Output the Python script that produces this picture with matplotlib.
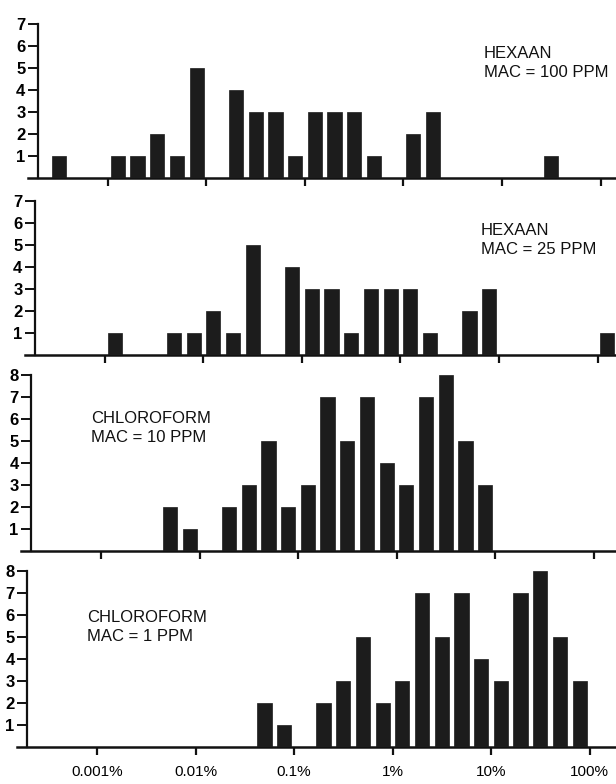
import matplotlib
matplotlib.use('Agg')
import matplotlib.pyplot as plt
from matplotlib.ticker import NullLocator, FixedLocator

plt.rcParams['font.family'] = ['Liberation Sans', 'DejaVu Sans']

# ---- data: bin centres as log10(percent), and counts ----
hex100_log = [-3.5, -2.9, -2.7, -2.5, -2.3, -2.1, -1.7, -1.5, -1.3, -1.1,
              -0.9, -0.7, -0.5, -0.3, 0.1, 0.3, 1.5]
hex100_n = [1, 1, 1, 2, 1, 5, 4, 3, 3, 1, 3, 3, 3, 1, 2, 3, 1]

hex25_log = [-2.9, -2.3, -2.1, -1.9, -1.7, -1.5, -1.1, -0.9, -0.7, -0.5,
             -0.3, -0.1, 0.1, 0.3, 0.7, 0.9, 2.1]
hex25_n = [1, 1, 1, 2, 1, 5, 4, 3, 3, 1, 3, 3, 3, 1, 2, 3, 1]

chl10_log = [-2.3, -2.1, -1.7, -1.5, -1.3, -1.1, -0.9, -0.7, -0.5, -0.3,
             -0.1, 0.1, 0.3, 0.5, 0.7, 0.9]
chl10_n = [2, 1, 2, 3, 5, 2, 3, 7, 5, 7, 4, 3, 7, 8, 5, 3]

chl1_log = [-1.3, -1.1, -0.7, -0.5, -0.3, -0.1, 0.1, 0.3, 0.5, 0.7,
            0.9, 1.1, 1.3, 1.5, 1.7, 1.9]
chl1_n = [2, 1, 2, 3, 5, 2, 3, 7, 5, 7, 4, 3, 7, 8, 5, 3]

labels = ["HEXAAN\nMAC = 100 PPM", "HEXAAN\nMAC = 25 PPM",
          "CHLOROFORM\nMAC = 10 PPM", "CHLOROFORM\nMAC = 1 PPM"]
decade_ticks = [-3, -2, -1, 0, 1, 2]
decade_labels = ["0.001%", "0.01%", "0.1%", "1%", "10%", "100%"]

W, H = 616, 784
DEC = 98.5      # px per decade
UNIT = 22.0     # px per count
BAR_W = 0.145   # bar width in decades
INK = '#1c1c1c'

fig = plt.figure(figsize=(W / 100, H / 100), dpi=100)
fig.patch.set_facecolor('white')


def panel(x0, bottom, ymax, ytop, logc, counts, label, lx, ly, last=False):
    left = x0 - 80
    ax = fig.add_axes([left / W, 1 - bottom / H, (W - left) / W, ymax * UNIT / H])
    ax.set_xscale('log')
    ax.set_xlim(10 ** (-3 - 80 / DEC), 10 ** (-3 + (W - x0) / DEC))
    ax.set_ylim(0, ymax)
    lefts = [10 ** (c - BAR_W / 2) for c in logc]
    widths = [10 ** (c + BAR_W / 2) - 10 ** (c - BAR_W / 2) for c in logc]
    ax.bar(lefts, counts, width=widths, align='edge', color=INK,
           edgecolor=INK, linewidth=0.5, zorder=3)
    for s in ['top', 'right']:
        ax.spines[s].set_visible(False)
    ax.spines['left'].set_position(('data', 10 ** (-3 - 70 / DEC)))
    ax.spines['left'].set_bounds(0, ytop)
    ax.spines['left'].set_linewidth(1.6)
    ax.spines['bottom'].set_linewidth(1.8)
    ax.spines['left'].set_color('#111111')
    ax.spines['bottom'].set_color('#111111')
    ax.xaxis.set_major_locator(FixedLocator([10 ** d for d in decade_ticks]))
    ax.xaxis.set_minor_locator(NullLocator())
    ax.set_yticks(list(range(1, ytop + 1)))
    ax.set_yticklabels([str(v) for v in range(1, ytop + 1)],
                       fontsize=12, fontweight='bold')
    ax.tick_params(axis='y', direction='out', length=7, width=1.4, pad=2,
                   color='#111111')
    ax.tick_params(axis='x', direction='out', length=6, width=1.6,
                   color='#111111', pad=7)
    if last:
        ax.set_xticklabels(decade_labels, fontsize=11)
    else:
        ax.set_xticklabels([])
    ax.patch.set_alpha(0)
    fig.text(lx / W, 1 - ly / H, label, fontsize=12, va='top', ha='left',
             linespacing=1.35, color='#111111')
    return ax


panel(108, 178, 7.5, 7, hex100_log, hex100_n, labels[0], 484, 46)
panel(105, 355, 7.5, 7, hex25_log, hex25_n, labels[1], 481, 223)
panel(101, 551, 8.4, 8, chl10_log, chl10_n, labels[2], 91, 411)
panel(97, 747, 8.4, 8, chl1_log, chl1_n, labels[3], 87, 610, last=True)

fig.savefig('out.png', dpi=100, facecolor='white')
